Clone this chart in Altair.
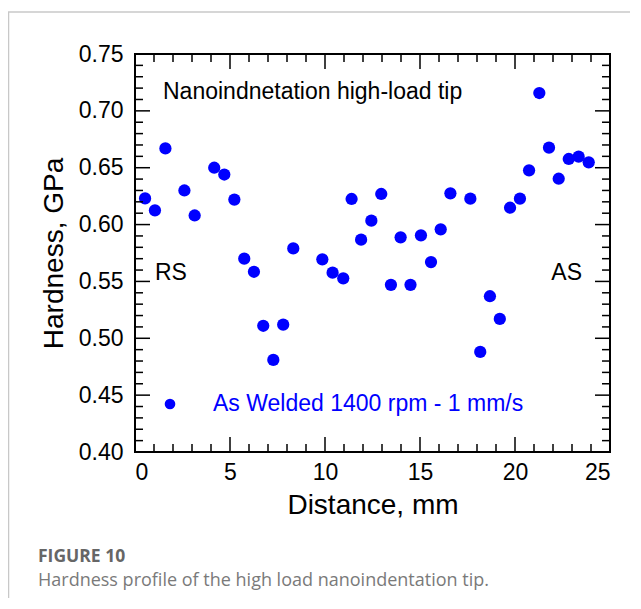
import altair as alt
import pandas as pd

# ---- data ----
distance = [0.53, 1.05, 1.60, 2.60, 3.14, 4.17, 4.70, 5.23, 5.75, 6.26,
            6.75, 7.28, 7.80, 8.33, 9.86, 10.40, 10.96, 11.40, 11.90, 12.44,
            12.96, 13.47, 13.98, 14.50, 15.05, 15.58, 16.09, 16.60, 17.65, 18.17,
            18.68, 19.20, 19.74, 20.26, 20.74, 21.28, 21.79, 22.30, 22.83, 23.35,
            23.88]
hardness = [0.623, 0.6125, 0.667, 0.630, 0.608, 0.650, 0.644, 0.622, 0.570, 0.5585,
            0.511, 0.481, 0.512, 0.579, 0.5694, 0.5577, 0.5527, 0.6225, 0.5867, 0.6034,
            0.6269, 0.547, 0.5888, 0.547, 0.5905, 0.567, 0.5958, 0.6275, 0.6228, 0.488,
            0.537, 0.517, 0.6148, 0.6228, 0.6477, 0.7157, 0.6676, 0.6403, 0.6577, 0.6597,
            0.6547]

x_major = [0, 5, 10, 15, 20, 25]
x_minor = [v for v in range(0, 26) if v % 5 != 0]
y_major = [0.40, 0.45, 0.50, 0.55, 0.60, 0.65, 0.70, 0.75]
y_minor = [round(0.40 + 0.01 * i, 2) for i in range(36) if i % 5 != 0]

series_label = "As Welded 1400 rpm - 1 mm/s"
title_note = "Nanoindnetation high-load tip"
fig_label = "FIGURE 10"
fig_caption = "Hardness profile of the high load nanoindentation tip."

W, H = 475, 398
BLUE = "#0000ff"
FONT = "Liberation Sans"

xs = alt.Scale(domain=[0, 25], nice=False, zero=False)
ys = alt.Scale(domain=[0.40, 0.75], nice=False, zero=False)
x_axis = alt.Axis(values=x_major, title="Distance, mm", labelPadding=9,
                  titlePadding=7, format="d")
y_axis = alt.Axis(values=y_major, title="Hardness, GPa", format=".2f",
                  labelPadding=12, titlePadding=10)

df = pd.DataFrame({"d": distance, "h": hardness})
one = pd.DataFrame({"k": [0]})

points = alt.Chart(df).mark_circle(size=150, opacity=1, color=BLUE).encode(
    x=alt.X("d:Q", scale=xs, axis=x_axis),
    y=alt.Y("h:Q", scale=ys, axis=y_axis),
)


def xticks(vals, length, top):
    d = pd.DataFrame({"v": vals})
    y0 = 0 if top else H
    y1 = length if top else H - length
    return alt.Chart(d).mark_rule(color="black", strokeWidth=1.5).encode(
        x=alt.X("v:Q", scale=xs, axis=x_axis),
        y=alt.value(y0), y2=alt.value(y1))


def yticks(vals, length, right):
    d = pd.DataFrame({"v": vals})
    x0 = W if right else 0
    x1 = W - length if right else length
    return alt.Chart(d).mark_rule(color="black", strokeWidth=1.5).encode(
        y=alt.Y("v:Q", scale=ys, axis=y_axis),
        x=alt.value(x0), x2=alt.value(x1))


ticks = [
    xticks(x_major, 15, False), xticks(x_major, 15, True),
    xticks(x_minor, 8, False), xticks(x_minor, 8, True),
    yticks(y_major, 15, False), yticks(y_major, 15, True),
    yticks(y_minor, 8, False), yticks(y_minor, 8, True),
]


def label(text, x, y, size=23, color="black", align="left", weight="normal", font=FONT):
    return alt.Chart(pd.DataFrame({"t": [text]})).mark_text(
        align=align, baseline="middle", fontSize=size, color=color,
        fontWeight=weight, font=font).encode(
        text="t:N", x=alt.value(x), y=alt.value(y))


texts = [
    label(title_note, 28, 38),
    label("RS", 20, 219),
    label("AS", 447, 219, align="right"),
    label(series_label, 78, 350, color=BLUE),
    label(fig_label, -97, 503, size=17.5, color="#666666", weight="bold", font="Open Sans"),
    label(fig_caption, -97, 527, size=18, color="#7a7a7a", font="Open Sans"),
]

legend_marker = alt.Chart(one).mark_circle(size=113, opacity=1, color=BLUE).encode(
    x=alt.value(35), y=alt.value(350))

frame_left = alt.Chart(one).mark_rule(color="#c8c8c8", strokeWidth=1.5).encode(
    x=alt.value(-126.5), y=alt.value(-42), y2=alt.value(600))
frame_top = alt.Chart(one).mark_rule(color="#c8c8c8", strokeWidth=1.5).encode(
    x=alt.value(-127), x2=alt.value(W + 30), y=alt.value(-42))

chart = alt.layer(points, *ticks, legend_marker, *texts, frame_left, frame_top).properties(
    width=W, height=H,
    padding={"left": 127, "top": 46, "right": 20, "bottom": 146},
    autosize=alt.AutoSizeParams(type="none"),
).configure_view(
    stroke="black", strokeWidth=2
).configure_axis(
    labelFont=FONT, titleFont=FONT, labelFontSize=23, titleFontSize=28,
    titleFontWeight="normal", labelColor="black", titleColor="black",
    ticks=False, domain=False, grid=False,
)

chart.save("out.html", embed_options={"renderer": "svg", "actions": False})
